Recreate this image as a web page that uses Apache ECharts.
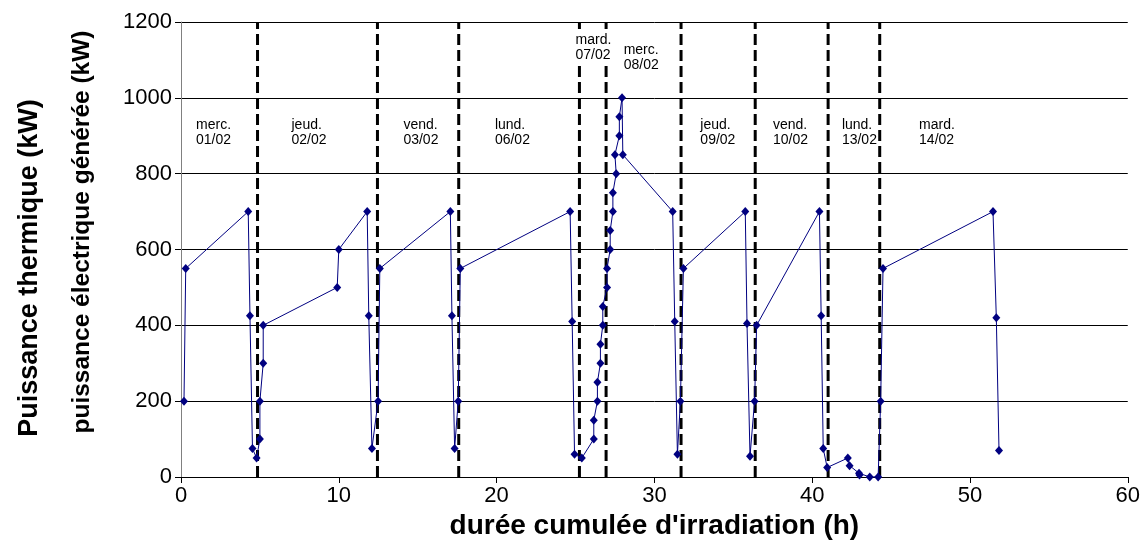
<!DOCTYPE html>
<html>
<head>
<meta charset="utf-8">
<script src="https://cdn.jsdelivr.net/npm/echarts@6/dist/echarts.min.js"></script>
<style>
html,body{margin:0;padding:0;background:#fff;}
#chart{width:1143px;height:560px;}
</style>
</head>
<body>
<div id="chart"></div>
<script>
// cumulative irradiation duration (h)
var hours = [0.19, 0.3, 4.26, 4.37, 4.53, 4.79, 5.0, 5.0, 5.21, 5.21,
  9.9, 10.0, 11.8, 11.9, 12.1, 12.49, 12.6,
  17.07, 17.17, 17.34, 17.57, 17.7,
  24.66, 24.79, 24.94, 25.4, 26.16, 26.16, 26.39, 26.39, 26.58, 26.58, 26.73, 26.73,
  27.0, 27.0, 27.2, 27.2, 27.37, 27.37, 27.58, 27.5, 27.78, 27.78, 27.95, 28.0,
  31.16, 31.29, 31.46, 31.65, 31.84,
  35.76, 35.87, 36.06, 36.35, 36.48,
  40.46, 40.57, 40.7, 40.95, 42.26, 42.37, 42.97, 43.0, 43.65, 44.18, 44.34, 44.49,
  51.46, 51.67, 51.84];
// power (kW)
var power = [200, 550, 700, 425, 75, 50, 100, 200, 300, 400,
  500, 600, 700, 425, 75, 200, 550,
  700, 425, 75, 200, 550,
  700, 410, 60, 50, 100, 150, 200, 250, 300, 350, 400, 450,
  500, 550, 600, 650, 700, 750, 800, 850, 900, 950, 1000, 850,
  700, 410, 60, 200, 550,
  700, 405, 55, 200, 400,
  700, 425, 75, 25, 50, 30, 10, 5, 0, 0, 200, 550,
  700, 420, 70];
// day boundaries (h)
var dayBounds = [4.85, 12.45, 17.6, 25.25, 26.94, 31.69, 36.39, 41.01, 44.28];
// day labels and their anchor (h, kW)
var dayNames = ['merc.\n01/02', 'jeud.\n02/02', 'vend.\n03/02', 'lund.\n06/02', 'mard.\n07/02',
  'merc.\n08/02', 'jeud.\n09/02', 'vend.\n10/02', 'lund.\n13/02', 'mard.\n14/02'];
var dayLabelX = [0.89, 6.94, 14.03, 19.83, 24.94, 27.99, 32.85, 37.45, 41.82, 46.71];
var dayLabelY = [951, 951, 951, 951, 1175, 1149, 951, 951, 951, 951];
var xTicks = [0, 10, 20, 30, 40, 50, 60];
var yTicks = [0, 200, 400, 600, 800, 1000, 1200];

var pts = hours.map(function (h, i) { return [h, power[i]]; });
var lbls = dayLabelX.map(function (x, i) { return [x, dayLabelY[i], i]; });
var yMin = yTicks[0], yMax = yTicks[yTicks.length - 1];

var chart = echarts.init(document.getElementById('chart'), null, {renderer: 'canvas'});
var FONT = '"Liberation Sans", Arial, sans-serif';
chart.setOption({
  animation: false,
  backgroundColor: '#ffffff',
  grid: {left: 181, right: 14, top: 22, bottom: 83, containLabel: false},
  xAxis: {
    type: 'value', min: xTicks[0], max: xTicks[xTicks.length - 1], interval: 10,
    axisLine: {show: true, onZero: false, lineStyle: {color: '#000', width: 1}},
    axisTick: {show: true, inside: false, length: 6, lineStyle: {color: '#000'}},
    axisLabel: {color: '#000', fontFamily: FONT, fontSize: 22, margin: 8,
      formatter: function (v) { return String(v); }},
    splitLine: {show: false},
    name: "durée cumulée d'irradiation (h)",
    nameLocation: 'middle', nameGap: 31,
    nameTextStyle: {color: '#000', fontFamily: FONT, fontSize: 28, fontWeight: 'bold'}
  },
  yAxis: {
    type: 'value', min: yMin, max: yMax, interval: 200,
    axisLine: {show: true, lineStyle: {color: '#808080', width: 1}},
    axisTick: {show: true, inside: false, length: 6, lineStyle: {color: '#000'}},
    axisLabel: {color: '#000', fontFamily: FONT, fontSize: 22, margin: 9,
      formatter: function (v) { return String(v); }},
    splitLine: {show: true, lineStyle: {color: '#000', width: 1}}
  },
  graphic: [
    {type: 'text', x: 30, y: 268, rotation: Math.PI / 2,
      style: {text: 'Puissance thermique (kW)', fill: '#000', font: 'bold 27px ' + FONT, align: 'center', verticalAlign: 'middle'}},
    {type: 'text', x: 82, y: 232, rotation: Math.PI / 2,
      style: {text: 'puissance électrique générée (kW)', fill: '#000', font: 'bold 24.5px ' + FONT, align: 'center', verticalAlign: 'middle'}}
  ],
  series: [
    {
      type: 'custom', z: 1, silent: true,
      data: dayBounds.map(function (b) { return [b]; }),
      encode: {x: 0},
      renderItem: function (params, api) {
        var p0 = api.coord([api.value(0), yMin]);
        var p1 = api.coord([api.value(0), yMax]);
        return {
          type: 'line', z2: 1,
          shape: {x1: p0[0], y1: p0[1], x2: p1[0], y2: p1[1]},
          style: {stroke: '#000', lineWidth: 3, lineDash: [11, 5]}
        };
      }
    },
    {
      type: 'line', data: pts, z: 5,
      symbol: 'diamond', symbolSize: [8, 9], showAllSymbol: true,
      lineStyle: {color: '#000080', width: 1},
      itemStyle: {color: '#000080'}
    },
    {
      type: 'custom', z: 10, silent: true,
      data: lbls,
      encode: {x: 0, y: 1},
      renderItem: function (params, api) {
        var p = api.coord([api.value(0), api.value(1)]);
        return {
          type: 'text', z2: 100,
          x: p[0], y: p[1],
          style: {
            text: dayNames[api.value(2)],
            fill: '#000', font: '14px ' + FONT, lineHeight: 15,
            align: 'left', verticalAlign: 'top',
            backgroundColor: '#ffffff', padding: [1, 1, 1, 1]
          }
        };
      }
    }
  ]
});
</script>
</body>
</html>
